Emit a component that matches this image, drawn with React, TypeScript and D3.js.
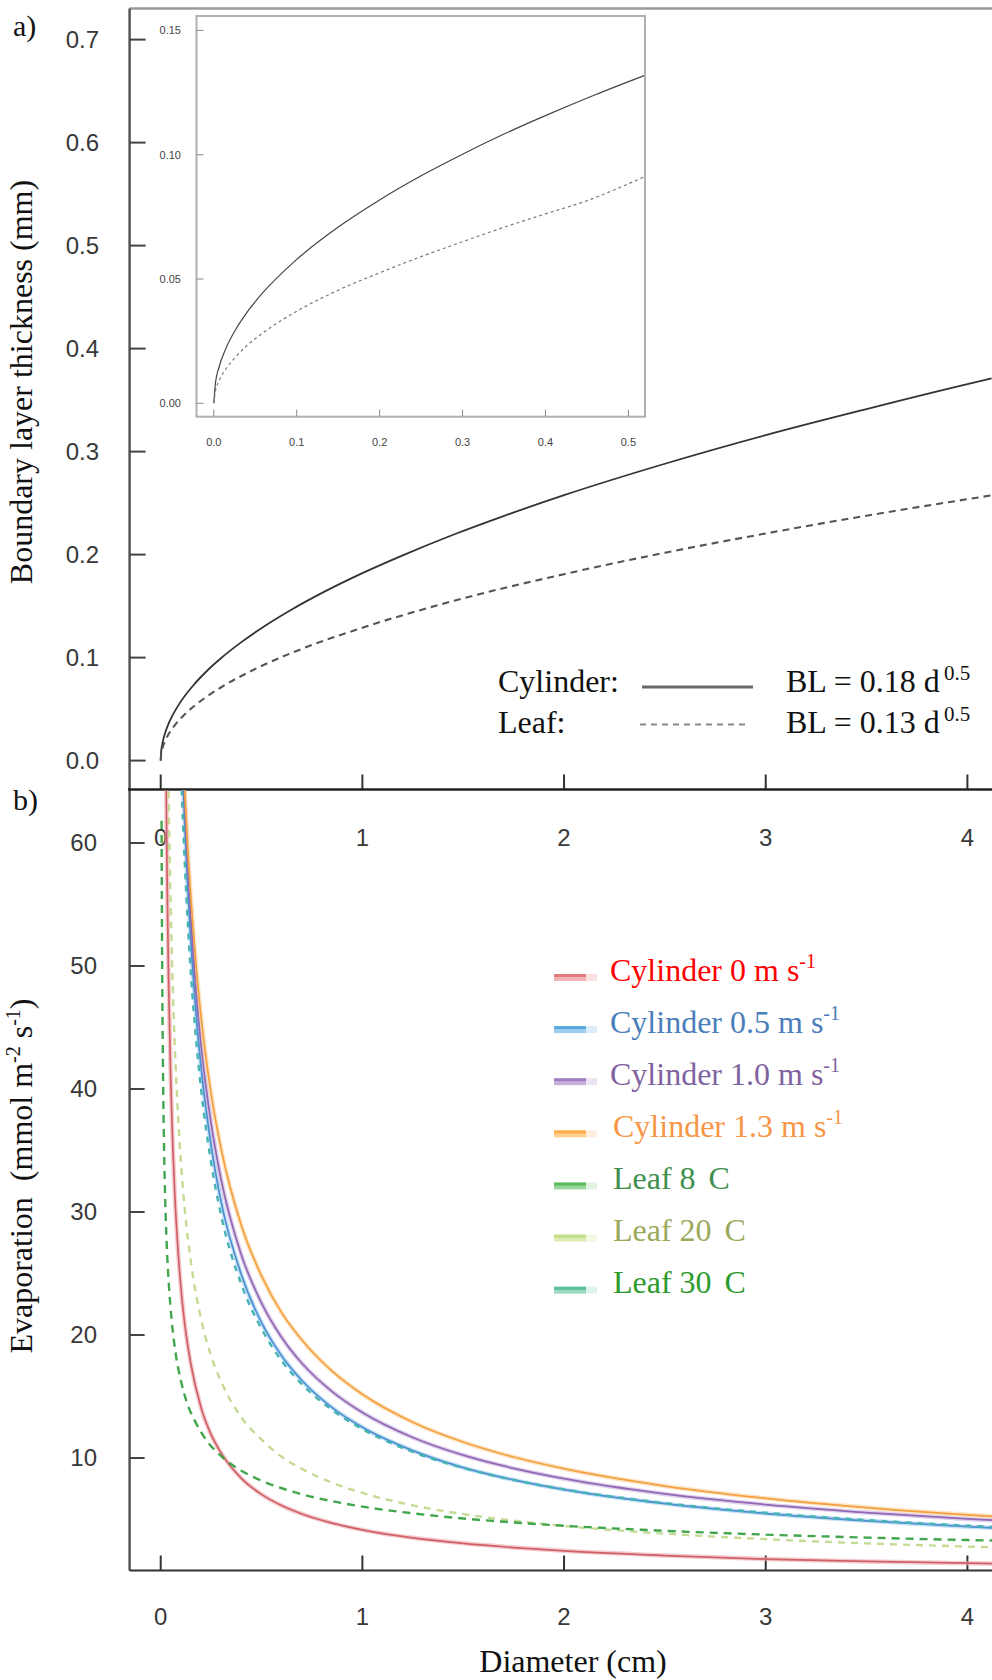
import React from "react";
import * as d3 from "d3";

type P = [number, number];

// ---------- axis ticks ----------
const blTicks = [0, 0.1, 0.2, 0.3, 0.4, 0.5, 0.6, 0.7];
const blTickLabels = ["0.0", "0.1", "0.2", "0.3", "0.4", "0.5", "0.6", "0.7"];
const diamTicks = [0, 1, 2, 3, 4];
const diamTickLabels = ["0", "1", "2", "3", "4"];
const evapTicks = [10, 20, 30, 40, 50, 60];
const evapTickLabels = ["10", "20", "30", "40", "50", "60"];
const insetXTicks = [0, 0.1, 0.2, 0.3, 0.4, 0.5];
const insetXLabels = ["0.0", "0.1", "0.2", "0.3", "0.4", "0.5"];
const insetYTicks = [0, 0.05, 0.1, 0.15];
const insetYLabels = ["0.00", "0.05", "0.10", "0.15"];

// ---------- panel a: boundary layer thickness (mm) vs diameter (cm) ----------
const blCylinder: P[] = [
  [0, 0], [0.002, 0.008], [0.006, 0.014], [0.013, 0.0206], [0.025, 0.0287], [0.04, 0.0363],
  [0.06, 0.0444], [0.1, 0.0575], [0.16, 0.0727], [0.22, 0.0853], [0.3, 0.0996], [0.4, 0.115],
  [0.52, 0.1312], [0.65, 0.1467], [0.8, 0.1628], [1.0, 0.182], [1.2, 0.1993], [1.46, 0.22],
  [1.7, 0.2374], [2.0, 0.2577], [2.5, 0.2882], [3.0, 0.316], [3.5, 0.3413], [4.0, 0.3655], [4.12, 0.371],
];
const blLeaf: P[] = [
  [0, 0], [0.002, 0.0058], [0.006, 0.01], [0.013, 0.0148], [0.025, 0.0206], [0.04, 0.026],
  [0.071, 0.0346], [0.12, 0.045], [0.22, 0.061], [0.3, 0.0712], [0.484, 0.0904], [0.7, 0.1085],
  [1.0, 0.129], [1.46, 0.1555], [2.0, 0.181], [2.5, 0.2018], [3.0, 0.2205], [3.5, 0.2378],
  [4.0, 0.2538], [4.12, 0.2575],
];
// inset (0 - 0.5 cm)
const insetCylinder: P[] = [
  [0, 0], [0.002, 0.0082], [0.006, 0.0142], [0.015, 0.0224], [0.026, 0.0295], [0.04, 0.0366],
  [0.057, 0.0437], [0.097, 0.057], [0.148, 0.0704], [0.199, 0.0816], [0.25, 0.0915],
  [0.3, 0.1002], [0.35, 0.1083], [0.402, 0.116], [0.46, 0.1241], [0.519, 0.1318],
];
const insetLeaf: P[] = [
  [0, 0], [0.002, 0.005], [0.006, 0.0088], [0.015, 0.014], [0.026, 0.0185], [0.04, 0.0232],
  [0.06, 0.0285], [0.1, 0.037], [0.15, 0.0455], [0.2, 0.0525], [0.25, 0.059], [0.3, 0.065],
  [0.35, 0.0708], [0.4, 0.0762], [0.45, 0.0815], [0.519, 0.0911],
];

// ---------- panel b: evaporation (mmol m-2 s-1) vs diameter (cm) ----------
const evapCyl0: P[] = [
  [0.025, 68.6], [0.03, 59.8], [0.035, 53.2], [0.04, 48.0], [0.05, 40.6], [0.06, 35.3],
  [0.07, 31.4], [0.085, 27.1], [0.1, 23.9], [0.12, 20.8], [0.15, 17.6], [0.2, 14.1],
  [0.25, 11.9], [0.3, 10.4], [0.4, 8.35], [0.5, 7.04], [0.6, 6.13], [0.7, 5.45],
  [0.85, 4.71], [1.0, 4.16], [1.25, 3.51], [1.5, 3.06], [1.75, 2.72], [2.0, 2.45],
  [2.5, 2.07], [3.0, 1.78], [3.5, 1.59], [4.0, 1.45], [4.15, 1.41],
];
const evapCyl05: P[] = [
  [0.1, 70.3], [0.11, 65.4], [0.12, 61.3], [0.135, 56.1], [0.15, 51.9], [0.175, 46.2],
  [0.2, 41.8], [0.25, 35.4], [0.3, 30.8], [0.4, 24.9], [0.5, 21.0], [0.6, 18.3],
  [0.7, 16.3], [0.85, 14.1], [1.0, 12.5], [1.25, 10.6], [1.5, 9.22], [1.75, 8.22],
  [2.0, 7.43], [2.5, 6.29], [3.0, 5.48], [3.5, 4.89], [4.0, 4.42], [4.15, 4.3],
];
const evapCyl10: P[] = [
  [0.1, 71.9], [0.11, 67.1], [0.12, 63.0], [0.135, 57.9], [0.15, 53.7], [0.175, 48.0],
  [0.2, 43.6], [0.25, 37.2], [0.3, 32.6], [0.4, 26.5], [0.5, 22.6], [0.6, 19.8],
  [0.7, 17.7], [0.85, 15.4], [1.0, 13.7], [1.25, 11.67], [1.5, 10.23], [1.75, 9.16],
  [2.0, 8.32], [2.5, 7.08], [3.0, 6.21], [3.5, 5.56], [4.0, 5.05], [4.15, 4.92],
];
const evapCyl13: P[] = [
  [0.1, 71.7], [0.11, 67.5], [0.12, 63.9], [0.135, 59.2], [0.15, 55.4], [0.175, 50.1],
  [0.2, 45.9], [0.25, 39.6], [0.3, 35.1], [0.4, 28.9], [0.5, 24.8], [0.6, 21.8],
  [0.7, 19.6], [0.85, 17.06], [1.0, 15.18], [1.25, 12.91], [1.5, 11.3], [1.75, 10.08],
  [2.0, 9.13], [2.5, 7.72], [3.0, 6.72], [3.5, 5.97], [4.0, 5.38], [4.15, 5.23],
];
const evapLeaf8: P[] = [
  [0.0045, 61.8], [0.005, 59.0], [0.0065, 52.7], [0.008, 48.2], [0.01, 43.8], [0.013, 39.2],
  [0.017, 34.9], [0.022, 31.2], [0.03, 27.3], [0.04, 24.2], [0.055, 21.1], [0.075, 18.4],
  [0.1, 16.3], [0.13, 14.5], [0.17, 13.0], [0.22, 11.6], [0.3, 10.15], [0.4, 8.97],
  [0.5, 8.15], [0.6, 7.54], [0.7, 7.05], [0.85, 6.49], [1.0, 6.05], [1.25, 5.5],
  [1.5, 5.08], [1.75, 4.76], [2.0, 4.49], [2.5, 4.08], [3.0, 3.77], [3.5, 3.53],
  [4.0, 3.33], [4.15, 3.28],
];
const evapLeaf20: P[] = [
  [0.035, 69.5], [0.04, 63.5], [0.05, 54.6], [0.06, 48.2], [0.07, 43.4], [0.085, 38.1],
  [0.1, 34.1], [0.12, 30.1], [0.15, 25.9], [0.2, 21.3], [0.25, 18.3], [0.3, 16.2],
  [0.4, 13.3], [0.5, 11.5], [0.6, 10.1], [0.7, 9.12], [0.85, 7.99], [1.0, 7.16],
  [1.25, 6.15], [1.5, 5.44], [1.75, 4.9], [2.0, 4.47], [2.5, 3.85], [3.0, 3.4],
  [3.5, 3.06], [4.0, 2.8], [4.15, 2.73],
];
const evapLeaf30: P[] = [
  [0.1, 66.3], [0.11, 61.9], [0.12, 58.1], [0.135, 53.3], [0.15, 49.3], [0.175, 44.1],
  [0.2, 40.0], [0.25, 34.0], [0.3, 29.7], [0.4, 24.1], [0.5, 20.5], [0.6, 17.9],
  [0.7, 16.0], [0.85, 13.9], [1.0, 12.35], [1.25, 10.49], [1.5, 9.19], [1.75, 8.21],
  [2.0, 7.45], [2.5, 6.33], [3.0, 5.54], [3.5, 4.95], [4.0, 4.49], [4.15, 4.37],
];

const legendNames = [
  "Cylinder 0 m s", "Cylinder 0.5 m s", "Cylinder 1.0 m s", "Cylinder 1.3 m s",
  "Leaf 8", "Leaf 20", "Leaf 30",
];
const legendSuffix = ["-1", "-1", "-1", "-1", "C", "C", "C"];

// ---------- styles ----------
const SERIF = "'Times New Roman', 'Liberation Serif', 'DejaVu Serif', serif";
const SANS = "Arial, 'Liberation Sans', Helvetica, sans-serif";

const evapSeries = [
  { data: evapCyl0, core: "#cf6068", halo: "#eeaaad", dash: null },
  { data: evapCyl05, core: "#4a8fd0", halo: "#a3cdef", dash: null },
  { data: evapCyl10, core: "#9068b4", halo: "#cbb0de", dash: null },
  { data: evapCyl13, core: "#f3a040", halo: "#fbd29c", dash: null },
  { data: evapLeaf30, core: "#46b4b4", halo: null, dash: "6,6" },
  { data: evapLeaf20, core: "#c5db95", halo: null, dash: "7,6" },
  { data: evapLeaf8, core: "#42a64c", halo: null, dash: "8,6" },
];
const legendStyles = [
  { text: "#ff0000", main: "#e47a7e", light: "#f2b3b5", pale: "#fbe1e2" },
  { text: "#4a7ebb", main: "#58a8e0", light: "#9fcdf0", pale: "#dcedf9" },
  { text: "#7f62a0", main: "#a07cc0", light: "#c9b0dc", pale: "#ece3f3" },
  { text: "#f79646", main: "#ffad4a", light: "#ffcf90", pale: "#ffeedd" },
  { text: "#3f8f4f", main: "#5cbb5c", light: "#9ad69a", pale: "#dff2df" },
  { text: "#9aa95a", main: "#c6e08a", light: "#dcecb4", pale: "#f1f8e4" },
  { text: "#2d9a2d", main: "#5cc09a", light: "#9ad8c0", pale: "#ddf2ea" },
];

export default function App() {
  const axisX = 129.6;
  const topY = 8.6;
  const midY = 789.5;
  const botY = 1570.5;
  const rightX = 992;

  const x = d3.scaleLinear().domain([0, 4]).range([160.7, 967.4]);
  const yA = d3.scaleLinear().domain([0, 0.7]).range([760.6, 39.6]);
  const yB = d3.scaleLinear().domain([10, 60]).range([1458, 843]);
  const xI = d3.scaleLinear().domain([0, 0.5]).range([213.8, 628.4]);
  const yI = d3.scaleLinear().domain([0, 0.15]).range([403.3, 30.4]);

  const lineA = d3.line<P>().x((d) => x(d[0])).y((d) => yA(d[1])).curve(d3.curveMonotoneX);
  const lineB = d3.line<P>().x((d) => x(d[0])).y((d) => yB(d[1])).curve(d3.curveMonotoneX);
  const lineI = d3.line<P>().x((d) => xI(d[0])).y((d) => yI(d[1])).curve(d3.curveMonotoneX);

  const inset = { x0: 196.5, x1: 645, y0: 16, y1: 416.7 };

  return (
    <svg
      width={992}
      height={1680}
      viewBox="0 0 992 1680"
      style={{ position: "absolute", left: 0, top: 0, background: "#fff" }}
    >
      <defs>
        <clipPath id="clipA">
          <rect x={axisX} y={topY} width={rightX - axisX} height={midY - topY} />
        </clipPath>
        <clipPath id="clipB">
          <rect x={axisX} y={midY + 1} width={rightX - axisX} height={botY - midY - 1} />
        </clipPath>
        <clipPath id="clipI">
          <rect x={inset.x0} y={inset.y0} width={inset.x1 - inset.x0} height={inset.y1 - inset.y0} />
        </clipPath>
      </defs>
      <rect x={0} y={0} width={992} height={1680} fill="#fff" />

      {/* ===== Panel a frame ===== */}
      <line x1={axisX} x2={rightX} y1={topY} y2={topY} stroke="#9a9a9a" strokeWidth={2.5} />
      <line x1={axisX} x2={axisX} y1={topY} y2={botY} stroke="#555" strokeWidth={2.5} />
      {blTicks.map((t, i) => (
        <g key={"ta" + i}>
          <line x1={axisX} x2={axisX + 16} y1={yA(t)} y2={yA(t)} stroke="#444" strokeWidth={2} />
          <text x={99} y={yA(t)} dy="0.35em" textAnchor="end" fontFamily={SANS} fontSize={24} fill="#383838">
            {blTickLabels[i]}
          </text>
        </g>
      ))}
      {diamTicks.map((t, i) => (
        <line key={"xa" + i} x1={x(t)} x2={x(t)} y1={midY} y2={midY - 15} stroke="#333" strokeWidth={2} />
      ))}
      {diamTicks.map((t, i) => (
        <text key={"xla" + i} x={x(t)} y={838} dy="0.35em" textAnchor="middle" fontFamily={SANS} fontSize={24} fill="#383838">
          {diamTickLabels[i]}
        </text>
      ))}

      <g clipPath="url(#clipA)">
        <path d={lineA(blCylinder) || ""} fill="none" stroke="#333" strokeWidth={1.8} />
        <path d={lineA(blLeaf) || ""} fill="none" stroke="#555" strokeWidth={2.1} strokeDasharray="7,5" />
      </g>

      {/* inset */}
      <rect x={inset.x0} y={inset.y0} width={inset.x1 - inset.x0} height={inset.y1 - inset.y0} fill="#fff" stroke="#b0b0b0" strokeWidth={2} />
      {insetYTicks.map((t, i) => (
        <g key={"iy" + i}>
          <line x1={inset.x0} x2={inset.x0 + 7} y1={yI(t)} y2={yI(t)} stroke="#888" strokeWidth={1} />
          <text x={181} y={yI(t)} dy="0.35em" textAnchor="end" fontFamily={SANS} fontSize={11} fill="#444">
            {insetYLabels[i]}
          </text>
        </g>
      ))}
      {insetXTicks.map((t, i) => (
        <g key={"ix" + i}>
          <line x1={xI(t)} x2={xI(t)} y1={inset.y1} y2={inset.y1 - 7} stroke="#888" strokeWidth={1} />
          <text x={xI(t)} y={441.7} dy="0.35em" textAnchor="middle" fontFamily={SANS} fontSize={11} fill="#444">
            {insetXLabels[i]}
          </text>
        </g>
      ))}
      <g clipPath="url(#clipI)">
        <path d={lineI(insetCylinder) || ""} fill="none" stroke="#444" strokeWidth={1.2} />
        <path d={lineI(insetLeaf) || ""} fill="none" stroke="#777" strokeWidth={1.2} strokeDasharray="3,3" />
      </g>

      {/* panel a legend */}
      <g fontFamily={SERIF} fill="#111">
        <text x={498} y={692} fontSize={32}>Cylinder:</text>
        <text x={498} y={733} fontSize={32}>Leaf:</text>
        <line x1={642} x2={753} y1={687} y2={687} stroke="#6a6a6a" strokeWidth={2.8} />
        <line x1={640} x2={745} y1={724.5} y2={724.5} stroke="#888" strokeWidth={2} strokeDasharray="6,5" />
        <text x={786} y={692} fontSize={32}>BL = 0.18 d</text>
        <text x={944} y={680} fontSize={21}>0.5</text>
        <text x={786} y={733} fontSize={32}>BL = 0.13 d</text>
        <text x={944} y={721} fontSize={21}>0.5</text>
      </g>

      {/* ===== Panel b frame ===== */}
      <line x1={128} x2={rightX} y1={midY} y2={midY} stroke="#222" strokeWidth={2.5} />
      <line x1={axisX} x2={rightX} y1={botY} y2={botY} stroke="#333" strokeWidth={2} />
      {evapTicks.map((t, i) => (
        <g key={"tb" + i}>
          <line x1={axisX} x2={axisX + 15} y1={yB(t)} y2={yB(t)} stroke="#444" strokeWidth={2} />
          <text x={97} y={yB(t)} dy="0.35em" textAnchor="end" fontFamily={SANS} fontSize={24} fill="#383838">
            {evapTickLabels[i]}
          </text>
        </g>
      ))}
      {diamTicks.map((t, i) => (
        <g key={"xb" + i}>
          <line x1={x(t)} x2={x(t)} y1={botY} y2={botY - 15} stroke="#333" strokeWidth={2} />
          <text x={x(t)} y={1617} dy="0.35em" textAnchor="middle" fontFamily={SANS} fontSize={24} fill="#383838">
            {diamTickLabels[i]}
          </text>
        </g>
      ))}

      <g clipPath="url(#clipB)">
        {evapSeries.map((s, i) =>
          s.halo ? (
            <path key={"h" + i} d={lineB(s.data) || ""} fill="none" stroke={s.halo} strokeWidth={4.5} strokeOpacity={0.6} />
          ) : null
        )}
        {evapSeries.map((s, i) => (
          <path
            key={"c" + i}
            d={lineB(s.data) || ""}
            fill="none"
            stroke={s.core}
            strokeWidth={s.dash ? 2.4 : 1.7}
            strokeDasharray={s.dash || undefined}
          />
        ))}
      </g>

      {/* panel b legend */}
      {legendNames.map((name, i) => {
        const ly = 977.5 + i * 52.1;
        const st = legendStyles[i];
        const isLeaf = i >= 4;
        return (
          <g key={"lg" + i}>
            <rect x={554} y={ly - 3.5} width={32} height={3.5} fill={st.main} />
            <rect x={554} y={ly} width={32} height={3.5} fill={st.light} />
            <rect x={586} y={ly - 3.5} width={11} height={7} fill={st.pale} />
            <text x={isLeaf || i === 3 ? 613 : 610} y={ly + 3} fontFamily={SERIF} fontSize={32} fill={st.text}>
              {name}
              {isLeaf ? (
                <tspan dx={13}>{legendSuffix[i]}</tspan>
              ) : (
                <tspan dy={-13} fontSize={20}>{legendSuffix[i]}</tspan>
              )}
            </text>
          </g>
        );
      })}

      {/* titles */}
      <text x={13} y={36} fontFamily={SERIF} fontSize={30} fill="#111">a)</text>
      <text x={13} y={810} fontFamily={SERIF} fontSize={30} fill="#111">b)</text>
      <text
        transform="translate(32,382) rotate(-90)"
        textAnchor="middle"
        fontFamily={SERIF}
        fontSize={32}
        fill="#111"
      >
        Boundary layer thickness (mm)
      </text>
      <text
        transform="translate(32,1176) rotate(-90)"
        textAnchor="middle"
        fontFamily={SERIF}
        fontSize={32}
        fill="#111"
        style={{ whiteSpace: "pre" }}
      >
        {"Evaporation  (mmol m"}
        <tspan dy={-12} fontSize={20}>-2</tspan>
        <tspan dy={12}>{" s"}</tspan>
        <tspan dy={-12} fontSize={20}>-1</tspan>
        <tspan dy={12}>)</tspan>
      </text>
      <text x={573} y={1672} textAnchor="middle" fontFamily={SERIF} fontSize={32} fill="#111">
        Diameter (cm)
      </text>
    </svg>
  );
}
